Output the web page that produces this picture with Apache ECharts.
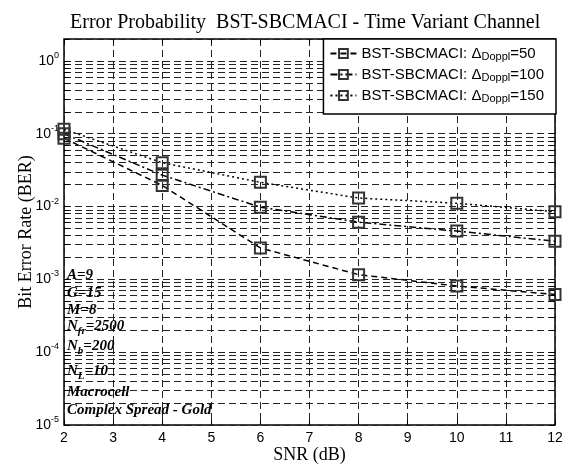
<!DOCTYPE html>
<html><head><meta charset="utf-8">
<script src="https://cdn.jsdelivr.net/npm/echarts@6/dist/echarts.min.js"></script>
<style>html,body{margin:0;padding:0;background:#fff}#c{width:576px;height:475px}</style>
</head><body><div id="c"></div>
<script>
// ---- data ----
const snr = [2, 4, 6, 8, 10, 12];
const ber50  = [0.087, 0.0195, 0.0027, 0.00116, 0.00081, 0.00062];
const ber100 = [0.100, 0.027, 0.0098, 0.0061, 0.0046, 0.00335];
const ber150 = [0.115, 0.040, 0.0215, 0.0131, 0.0111, 0.0085];
const dopplerValues = ['50', '100', '150'];
const xTicks = [2, 3, 4, 5, 6, 7, 8, 9, 10, 11, 12];
const yDecades = [1e-5, 1e-4, 1e-3, 1e-2, 1e-1, 1];
const annotations = ['A=9', 'G=15', 'M=8', 'N_fr=2500', 'N_b=200', 'N_L=10', 'Macrocell', 'Complex Spread - Gold'];
const annotY = [278, 296, 313, 329, 349, 374, 395, 413];

const sans = 'Liberation Sans';
const serif = 'Liberation Serif';

// minor + major tick positions on the log axis
const yTickVals = [];
yDecades.forEach(d => { for (let k = 1; k <= 9; k++) { if (d === 1 && k > 2) break; yTickVals.push(+(k * d).toPrecision(3)); } });

const chart = echarts.init(document.getElementById('c'), null, {renderer: 'canvas'});

const names = dopplerValues.map(v => 'BST-SBCMACI: \u0394Doppl=' + v);
const dashes = [[6, 4], [7, 3, 2, 3], [2, 3]];
const datasets = [ber50, ber100, ber150];

const series = datasets.map((arr, i) => ({
  name: names[i],
  type: 'line',
  data: snr.map((x, j) => [x, arr[j]]),
  symbol: 'rect',
  symbolSize: 11,
  showAllSymbol: true,
  lineStyle: {color: '#000', width: 1.5, type: dashes[i]},
  itemStyle: {color: 'rgba(255,255,255,0)', borderColor: '#333', borderWidth: 2},
  emphasis: {disabled: true},
  z: 5
}));

const richTick = {
  b: {fontFamily: sans, fontSize: 14, color: '#000', lineHeight: 20},
  e: {fontFamily: sans, fontSize: 9, color: '#000', lineHeight: 11, verticalAlign: 'top'}
};

const gridLine = {show: true, lineStyle: {color: '#222', width: 1, type: [7, 4]}};

const annotGraphics = annotations.map((t, i) => {
  let txt;
  const m = t.match(/^N_(\w+)=(.*)$/);
  if (m) txt = '{i|N}{s|' + m[1] + '}{i|=' + m[2] + '}';
  else txt = '{i|' + t + '}';
  return {
    type: 'text', left: 67, top: annotY[i] - 10, z: 10,
    style: {
      text: txt,
      rich: {
        i: {fontFamily: serif, fontSize: 15, fontStyle: 'italic', fontWeight: 'bold', fill: '#000', lineHeight: 20},
        s: {fontFamily: serif, fontSize: 11, fontStyle: 'italic', fontWeight: 'bold', fill: '#000', lineHeight: 12, verticalAlign: 'bottom'}
      }
    }
  };
});

chart.setOption({
  backgroundColor: '#fff',
  animation: false,
  title: {
    text: 'Error Probability  BST-SBCMACI - Time Variant Channel',
    left: 65, top: 8,
    textStyle: {fontFamily: serif, fontSize: 20, fontWeight: 'normal', color: '#000'}
  },
  grid: {left: 64, right: 21, top: 39, bottom: 50, show: true, borderColor: '#000', borderWidth: 1.5, backgroundColor: 'transparent'},
  legend: {
    orient: 'vertical', right: 20, top: 39,
    padding: [7, 12, 10, 6], itemGap: 5, itemWidth: 26, itemHeight: 11, itemTextGap: 11,
    backgroundColor: '#fff', borderColor: '#000', borderWidth: 1.5, borderRadius: 0,
    selectedMode: false,
    data: names,
    formatter: name => {
      const v = name.split('=')[1];
      return '{a|BST-SBCMACI: \u0394}{s|Doppl}{a|=' + v + '}';
    },
    textStyle: {
      rich: {
        a: {fontFamily: sans, fontSize: 15, color: '#000', lineHeight: 17},
        s: {fontFamily: sans, fontSize: 11, color: '#000', lineHeight: 9, verticalAlign: 'bottom'}
      }
    }
  },
  xAxis: [{
    type: 'value', min: 2, max: 12, interval: 1,
    name: 'SNR (dB)', nameLocation: 'middle', nameGap: 21, nameMoveOverlap: false,
    nameTextStyle: {fontFamily: serif, fontSize: 18, color: '#000', verticalAlign: 'top'},
    axisLine: {show: false},
    axisTick: {show: true, inside: true, length: 5, lineStyle: {color: '#000'}},
    axisLabel: {fontFamily: sans, fontSize: 14, color: '#000', margin: 6},
    splitLine: gridLine
  }, {
    type: 'value', min: 2, max: 12, interval: 1, position: 'top',
    axisLine: {show: false},
    axisTick: {show: true, inside: true, length: 5, lineStyle: {color: '#000'}},
    axisLabel: {show: false}, splitLine: {show: false}
  }],
  yAxis: [{
    type: 'log', logBase: 10, min: 1e-5, max: 2,
    name: 'Bit Error Rate (BER)', nameLocation: 'middle', nameGap: 29, nameRotate: 90, nameMoveOverlap: false,
    nameTextStyle: {fontFamily: serif, fontSize: 18, color: '#000'},
    axisLine: {show: false},
    axisTick: {show: true, inside: true, length: 5, customValues: yTickVals, lineStyle: {color: '#000'}},
    axisLabel: {
      customValues: yDecades, margin: 5,
      formatter: v => '{b|10}{e|' + Math.round(Math.log10(v)) + '}',
      rich: richTick
    },
    splitLine: gridLine,
    minorTick: {show: false}
  }, {
    type: 'log', logBase: 10, min: 1e-5, max: 2, position: 'right',
    axisLine: {show: false},
    axisTick: {show: true, inside: true, length: 5, customValues: yTickVals, lineStyle: {color: '#000'}},
    axisLabel: {show: false}, splitLine: {show: false}
  }],
  series: series,
  graphic: annotGraphics
});
</script>
</body></html>
